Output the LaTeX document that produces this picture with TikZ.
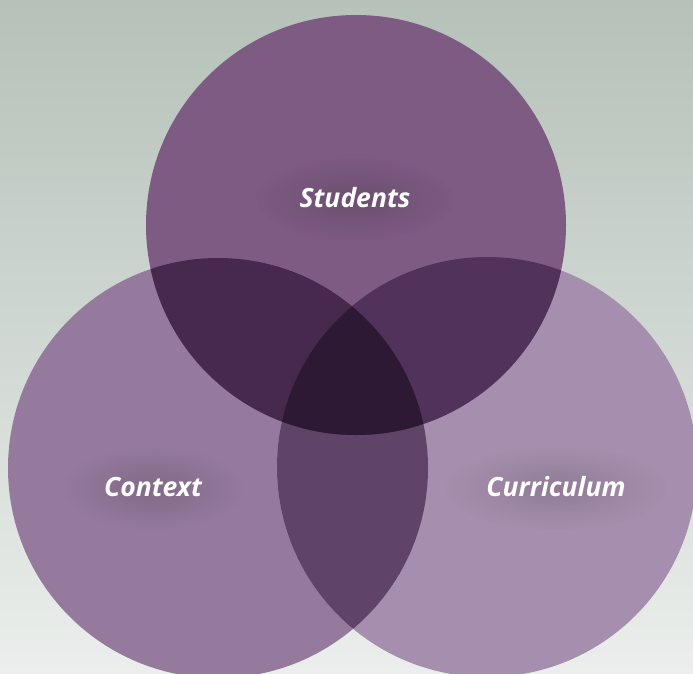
\documentclass[tikz,border=0pt]{standalone}
\usepackage{fontspec}
\setsansfont{Open Sans}
\usetikzlibrary{fadings}

\definecolor{bgtop}{HTML}{B5C1B9}
\definecolor{bgmid}{HTML}{AEBCB2}
\definecolor{bgbot}{HTML}{EBEEEC}
\definecolor{stucol}{HTML}{7D5B82}
\definecolor{concol}{HTML}{957A9D}
\definecolor{curcol}{HTML}{A68FAE}
\definecolor{stucon}{HTML}{46294D}
\definecolor{stucur}{HTML}{51325A}
\definecolor{concur}{HTML}{5F4468}
\definecolor{allthree}{HTML}{2E1935}

\tikzfading[name=glow, inner color=transparent!55, outer color=transparent!100]

\begin{document}
\begin{tikzpicture}[x=1pt, y=-1pt,
    lbl/.style={text=white, inner sep=2pt,
      font=\sffamily\bfseries\itshape\fontsize{26.5}{30}\selectfont},
    halo/.style={fill=black, fill opacity=0.3, path fading=glow}]
    \useasboundingbox (0,0) rectangle (693,673);
    \shade[top color=bgtop, middle color=bgmid, bottom color=bgbot]
      (0,0) rectangle (693,673);

    % circle centres
    \coordinate (stu) at (356,225);
    \coordinate (con) at (218,468);
    \coordinate (cur) at (487,467);

    \fill[concol] (con) circle (210pt);
    \fill[curcol] (cur) circle (210pt);
    \fill[stucol] (stu) circle (210pt);

    % overlaps
    \begin{scope}
      \clip (con) circle (210pt);
      \fill[concur] (cur) circle (210pt);
      \fill[stucon] (stu) circle (210pt);
    \end{scope}
    \begin{scope}
      \clip (cur) circle (210pt);
      \fill[stucur] (stu) circle (210pt);
      \clip (stu) circle (210pt);
      \fill[allthree] (con) circle (210pt);
    \end{scope}

    % labels
    \fill[halo] (355,199) ellipse (100pt and 42pt);
    \fill[halo] (153,488) ellipse (92pt and 42pt);
    \fill[halo] (556,488) ellipse (112pt and 42pt);
    \node[lbl] at (355,198) (students) {Students};
    \node[lbl] at (153,487) (context) {Context};
    \node[lbl] at (556,487) (curriculum) {Curriculum};
\end{tikzpicture}
\end{document}
